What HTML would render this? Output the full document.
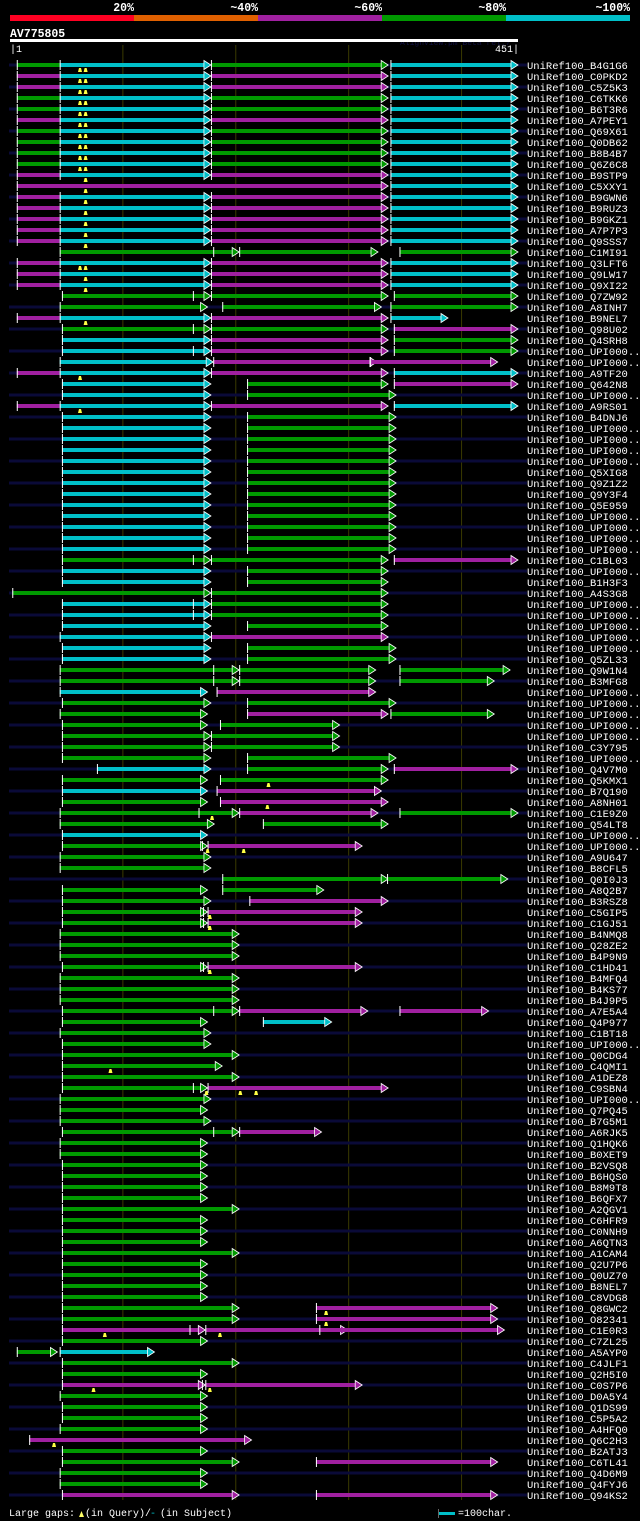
<!DOCTYPE html>
<html><head><meta charset="utf-8">
<style>
html,body{margin:0;padding:0;background:#000;width:640px;height:1521px;overflow:hidden}
svg{display:block}
text{font-family:"Liberation Mono","DejaVu Sans Mono",monospace}
</style></head>
<body>
<svg id="chart" width="640" height="1521" xmlns="http://www.w3.org/2000/svg">
<g>
<rect x="10" y="15" width="124" height="6" fill="#ff0022"/>
<rect x="134" y="15" width="124" height="6" fill="#e06000"/>
<rect x="258" y="15" width="124" height="6" fill="#a020a0"/>
<rect x="382" y="15" width="124" height="6" fill="#009900"/>
<rect x="506" y="15" width="124" height="6" fill="#00bfc8"/>
<text x="134" y="11" fill="#fff" font-size="11.5" font-weight="bold" text-anchor="end">20%</text>
<text x="258" y="11" fill="#fff" font-size="11.5" font-weight="bold" text-anchor="end">~40%</text>
<text x="382" y="11" fill="#fff" font-size="11.5" font-weight="bold" text-anchor="end">~60%</text>
<text x="506" y="11" fill="#fff" font-size="11.5" font-weight="bold" text-anchor="end">~80%</text>
<text x="630" y="11" fill="#fff" font-size="11.5" font-weight="bold" text-anchor="end">~100%</text>
</g>
<text x="10" y="37" fill="#fff" font-size="11.5" font-weight="bold">AV775805</text>
<text x="400" y="45" fill="#101040" font-size="8">AlignView.pm Beta rel.7</text>
<rect x="10" y="39" width="508" height="3" fill="#fff"/>
<text x="10" y="52" fill="#fff" font-size="10">|1</text>
<text x="519" y="52" fill="#fff" font-size="10" text-anchor="end">451|</text>
<g id="grid"></g>
<g id="rows"></g>
<g>
<text x="9" y="1516" fill="#fff" font-size="10">Large gaps:</text>
<path d="M79 1517 L81.5 1511 L84 1517 Z" fill="#ffff66"/>
<text x="85" y="1516" fill="#fff" font-size="10">(in Query)/</text>
<text x="150" y="1516" fill="#00bfc8" font-size="10">-</text>
<text x="160" y="1516" fill="#fff" font-size="10">(in Subject)</text>
<rect x="438" y="1512" width="17" height="3" fill="#00bfc8"/>
<rect x="438" y="1509" width="1" height="9" fill="#666"/>
<text x="458" y="1516" fill="#fff" font-size="10">=100char.</text>
</g>
</svg>
<script>
const queryLen = 451;
const gridTicks = [101, 201, 301, 401];
const names = ["B4G1G6","C0PKD2","C5Z5K3","C6TKK6","B6T3R6","A7PEY1","Q69X61","Q0DB62","B8B4B7","Q6Z6C8","B9STP9","C5XXY1","B9GWN6","B9RUZ3","B9GKZ1","A7P7P3","Q9SSS7","C1MI91","Q3LFT6","Q9LW17","Q9XI22","Q7ZW92","A8INH7","B9NEL7","Q98U02","Q4SRH8","UPI000..","UPI000..","A9TF20","Q642N8","UPI000..","A9RS01","B4DNJ6","UPI000..","UPI000..","UPI000..","UPI000..","Q5XIG8","Q9Z1Z2","Q9Y3F4","Q5E959","UPI000..","UPI000..","UPI000..","UPI000..","C1BL03","UPI000..","B1H3F3","A4S3G8","UPI000..","UPI000..","UPI000..","UPI000..","UPI000..","Q5ZL33","Q9W1N4","B3MFG8","UPI000..","UPI000..","UPI000..","UPI000..","UPI000..","C3Y795","UPI000..","Q4V7M0","Q5KMX1","B7Q190","A8NH01","C1E9Z0","Q54LT8","UPI000..","UPI000..","A9U647","B8CFL5","Q0I0J3","A8Q2B7","B3RSZ8","C5GIP5","C1GJ51","B4NMQ8","Q28ZE2","B4P9N9","C1HD41","B4MFQ4","B4KS77","B4J9P5","A7E5A4","Q4P977","C1BT18","UPI000..","Q0CDG4","C4QMI1","A1DEZ8","C9SBN4","UPI000..","Q7PQ45","B7G5M1","A6RJK5","Q1HQK6","B0XET9","B2VSQ8","B6HQS0","B8M9T8","B6QFX7","A2QGV1","C6HFR9","C0NNH9","A6QTN3","A1CAM4","Q2U7P6","Q0UZ70","B8NEL7","C8VDG8","Q8GWC2","O82341","C1E0R3","C7ZL25","A5AYP0","C4JLF1","Q2H5I0","C0S7P6","D0A5Y4","Q1DS99","C5P5A2","A4HFQ0","Q6C2H3","B2ATJ3","C6TL41","Q4D6M9","Q4FYJ6","Q94KS2"];
const segs = [
[[7,45,"g",0],[45,179,"c"],[179,336,"g"],[338,451,"c"]],
[[7,45,"m",0],[45,179,"c"],[179,336,"m"],[338,451,"c"]],
[[7,45,"m",0],[45,179,"c"],[179,336,"m"],[338,451,"c"]],
[[7,45,"g",0],[45,179,"c"],[179,336,"g"],[338,451,"c"]],
[[7,45,"g",0],[45,179,"c"],[179,336,"g"],[338,451,"c"]],
[[7,45,"m",0],[45,179,"c"],[179,336,"m"],[338,451,"c"]],
[[7,45,"g",0],[45,179,"c"],[179,336,"g"],[338,451,"c"]],
[[7,45,"g",0],[45,179,"c"],[179,336,"g"],[338,451,"c"]],
[[7,45,"g",0],[45,179,"c"],[179,336,"g"],[338,451,"c"]],
[[7,45,"g",0],[45,179,"c"],[179,336,"g"],[338,451,"c"]],
[[7,45,"m",0],[45,179,"c"],[179,336,"m"],[338,451,"c"]],
[[7,336,"m"],[338,451,"c"]],
[[7,45,"m",0],[45,179,"c"],[179,336,"m"],[338,451,"c"]],
[[7,45,"m",0],[45,179,"c"],[179,336,"m"],[338,451,"c"]],
[[7,45,"m",0],[45,179,"c"],[179,336,"m"],[338,451,"c"]],
[[7,45,"m",0],[45,179,"c"],[179,336,"m"],[338,451,"c"]],
[[7,45,"m",0],[45,179,"c"],[179,336,"m"],[338,451,"c"]],
[[45,204,"g"],[204,327,"g"],[346,451,"g"]],
[[7,45,"m",0],[45,179,"c"],[179,336,"m"],[338,451,"c"]],
[[7,45,"m",0],[45,179,"c"],[179,336,"m"],[338,451,"c"]],
[[7,45,"m",0],[45,179,"c"],[179,336,"m"],[338,451,"c"]],
[[47,179,"g"],[179,336,"g"],[341,451,"g"]],
[[45,176,"g"],[189,330,"g"],[338,451,"g"]],
[[7,45,"m",0],[45,179,"c"],[179,336,"m"],[338,389,"c"]],
[[47,179,"g"],[179,336,"g"],[341,451,"m"]],
[[47,179,"c"],[179,336,"m"],[341,451,"g"]],
[[47,179,"c"],[179,336,"m"],[341,451,"g"]],
[[45,181,"c"],[181,326,"m"],[320,433,"m"]],
[[7,45,"m",0],[45,179,"c"],[179,336,"m"],[341,451,"c"]],
[[47,179,"c"],[211,336,"g"],[341,451,"m"]],
[[47,179,"c"],[211,343,"g"]],
[[7,45,"m",0],[45,179,"c"],[179,336,"m"],[341,451,"c"]],
[[47,179,"c"],[211,343,"g"]],[[47,179,"c"],[211,343,"g"]],[[47,179,"c"],[211,343,"g"]],[[47,179,"c"],[211,343,"g"]],
[[47,179,"c"],[211,343,"g"]],[[47,179,"c"],[211,343,"g"]],[[47,179,"c"],[211,343,"g"]],[[47,179,"c"],[211,343,"g"]],
[[47,179,"c"],[211,343,"g"]],[[47,179,"c"],[211,343,"g"]],[[47,179,"c"],[211,343,"g"]],[[47,179,"c"],[211,343,"g"]],
[[47,179,"c"],[211,343,"g"]],
[[47,179,"g"],[179,336,"g"],[341,451,"m"]],
[[47,179,"c"],[211,336,"g"]],
[[47,179,"c"],[211,336,"g"]],
[[3,179,"g"],[179,336,"g"]],
[[47,179,"c"],[179,336,"g"]],
[[47,179,"c"],[179,336,"g"]],
[[47,179,"c"],[211,336,"g"]],
[[45,179,"c"],[179,336,"m"]],
[[47,179,"c"],[211,343,"g"]],
[[47,179,"c"],[211,343,"g"]],
[[45,204,"g"],[204,325,"g"],[346,444,"g"]],
[[45,204,"g"],[204,325,"g"],[346,430,"g"]],
[[45,176,"c"],[184,325,"m"]],
[[47,179,"g"],[211,343,"g"]],
[[45,176,"g"],[211,336,"m"],[338,430,"g"]],
[[47,176,"g"],[187,293,"g"]],
[[47,179,"g"],[179,293,"g"]],
[[47,179,"g"],[179,293,"g"]],
[[47,179,"g"],[211,343,"g"]],
[[78,179,"c"],[211,336,"g"],[341,451,"m"]],
[[47,176,"g"],[187,336,"g"]],
[[47,176,"c"],[184,330,"m"]],
[[47,176,"g"],[187,336,"m"]],
[[45,204,"g"],[204,327,"m"],[346,451,"g"]],
[[45,182,"g"],[225,336,"g"]],
[[47,176,"c"]],
[[47,176,"g"],[176,313,"m"]],
[[45,179,"g"]],
[[45,179,"g"]],
[[189,336,"g"],[335,442,"g"]],
[[47,176,"g"],[189,279,"g"]],
[[47,179,"g"],[213,336,"m"]],
[[47,176,"g"],[176,313,"m"]],
[[47,176,"g"],[176,313,"m"]],
[[45,204,"g"]],[[45,204,"g"]],[[45,204,"g"]],
[[47,176,"g"],[176,313,"m"]],
[[45,204,"g"]],[[45,204,"g"]],[[45,204,"g"]],
[[47,204,"g"],[204,318,"m"],[346,425,"m"]],
[[47,176,"g"],[225,286,"c"]],
[[45,179,"g"]],
[[47,179,"g"]],
[[47,204,"g"]],
[[47,189,"g"]],
[[47,204,"g"]],
[[47,176,"g"],[176,336,"m"]],
[[45,179,"g"]],
[[45,176,"g"]],
[[45,179,"g"]],
[[47,204,"g"],[204,277,"m"]],
[[45,176,"g"]],[[45,176,"g"]],
[[47,176,"g"]],[[47,176,"g"]],[[47,176,"g"]],[[47,176,"g"]],
[[47,204,"g"]],
[[47,176,"g"]],[[47,176,"g"]],[[47,176,"g"]],
[[47,204,"g"]],
[[47,176,"g"]],[[47,176,"g"]],[[47,176,"g"]],[[47,176,"g"]],
[[47,204,"g"],[272,433,"m"]],
[[47,204,"g"],[272,433,"m"]],
[[47,174,"m"],[174,300,"m"],[275,439,"m"]],
[[47,176,"g"]],
[[7,43,"g"],[45,129,"c"]],
[[47,204,"g"]],
[[47,176,"g"]],
[[47,174,"m"],[174,313,"m"]],
[[45,176,"g"]],[[47,176,"g"]],[[47,176,"g"]],[[45,176,"g"]],
[[18,215,"m"]],
[[47,176,"g"]],
[[47,204,"g"],[272,433,"m"]],
[[45,176,"g"]],[[45,176,"g"]],
[[47,204,"m"],[272,433,"m"]]
];
const innerTicks = {17:[181],21:[163],24:[163],26:[163],45:[163],49:[163],50:[163],55:[181],56:[181],68:[168],71:[171],77:[172],78:[172],82:[172],86:[181],93:[163],97:[181],115:[160],120:[171]};
const queryGaps = {0:[63,68],1:[63,68],2:[63,68],3:[63,68],4:[63,68],5:[63,68],6:[63,68],7:[63,68],8:[63,68],9:[63,68],10:[68],11:[68],12:[68],13:[68],14:[68],15:[68],16:[68],18:[63,68],19:[68],20:[68],23:[68],28:[63],31:[63],65:[230],67:[229],68:[180],71:[176,208],77:[178],78:[178],82:[178],91:[90],93:[175,205,219],113:[281],114:[281],115:[85,187],120:[75,178],125:[40]};
const colors = {g:"#009900", m:"#a020a0", c:"#00bfc8"};

const NS = "http://www.w3.org/2000/svg";
const X0 = 10, X1 = 518, Y0 = 65, ROWH = 11;
function xs(p){ return X0 + (p - 1) * (X1 - X0) / (queryLen - 1); }
function ys(i){ return Y0 + i * ROWH; }
function mk(tag, attrs){ const e = document.createElementNS(NS, tag); for (const k in attrs) e.setAttribute(k, attrs[k]); return e; }

const grid = document.getElementById("grid");
gridTicks.forEach(t => {
  const l = mk("rect", {x: xs(t) - 0.5, y: 45, width: 1, height: 1455, fill: "#3a3a00"});
  
  
  grid.appendChild(l);
});

const rowsG = document.getElementById("rows");
names.forEach((nm, i) => {
  const cy = ys(i);
  const g = mk("g", {});
  
  
  if (i % 2 === 0) {
    const bg = mk("rect", {x: 9, y: cy - 1.5, width: 518, height: 3, fill: "#0a0a38"});
    
    
    g.appendChild(bg);
  }
  (segs[i] || []).forEach(s => {
    const [a, b, c, arrow] = s;
    const xa = xs(a), xb = xs(b), col = colors[c];
    const hasArrow = arrow !== 0;
    const bar = mk("rect", {x: xa, y: cy - 2, width: Math.max(0, (hasArrow ? xb - 6 : xb) - xa), height: 4, fill: col});
    
    
    g.appendChild(bar);
    const tk = mk("rect", {x: xa, y: cy - 5, width: 1, height: 10, fill: "#fff"});
    
    
    g.appendChild(tk);
    if (hasArrow) {
      const ar = mk("path", {d: `M${xb-7} ${cy-4.5} L${xb} ${cy} L${xb-7} ${cy+4.5} Z`, fill: col, stroke: "#fff", "stroke-width": 0.8});
      
      
      g.appendChild(ar);
    }
  });
  (innerTicks[i] || []).forEach(p => {
    const t = mk("rect", {x: xs(p), y: cy - 5, width: 1, height: 10, fill: "#fff"});
    
    
    g.appendChild(t);
  });
  (queryGaps[i] || []).forEach(p => {
    const x = xs(p);
    const q = mk("path", {d: `M${x-2} ${cy+7} L${x-1} ${cy+3} L${x+1} ${cy+3} L${x+2} ${cy+7} Z`, fill: "#ffff44"});
    
    
    g.appendChild(q);
  });
  const lab = mk("text", {x: 527, y: cy + 4, fill: "#fff", "font-size": 10.5});
  lab.textContent = "UniRef100_" + nm;
  
  
  g.appendChild(lab);
  rowsG.appendChild(g);
});
</script>
</body></html>
